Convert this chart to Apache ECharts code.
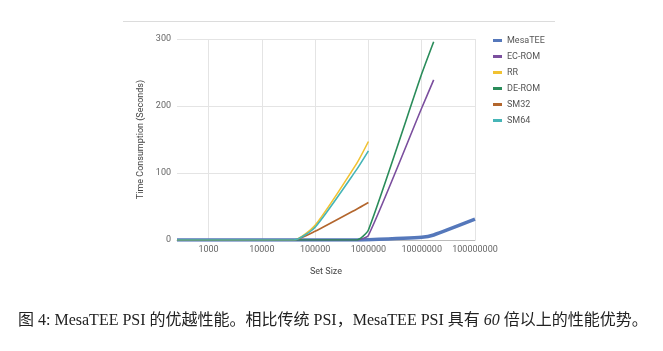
<!DOCTYPE html>
<html>
<head>
<meta charset="utf-8">
<script src="https://cdn.jsdelivr.net/npm/echarts@6/dist/echarts.min.js"></script>
<style>
html, body { margin: 0; padding: 0; background: #fff; }
#main { width: 663px; height: 351px; }
</style>
</head>
<body>
<div id="main"></div>
<script>
// set sizes (x) and times in seconds
var setSizes = [256, 1000, 10000, 40000, 100000, 600000, 1000000, 10000000, 16777216, 100000000];
var mesaTEE = [0, 0, 0, 0, 0, 0, 0.2, 4, 7.5, 31];
var ecRom   = [0, 0, 0, 0, 0, 0, 7, 197, 239, null];
var rr      = [0, 0, 0, 0, 22, 114, 147, null, null, null];
var deRom   = [0, 0, 0, 0, 0, 0, 15, 248, 296, null];
var sm32    = [0, 0, 0, 0, 13, 46, 56, null, null, null];
var sm64    = [0, 0, 0, 0, 19, 105, 133, null, null, null];
var seriesNames = ['MesaTEE', 'EC-ROM', 'RR', 'DE-ROM', 'SM32', 'SM64'];
var xTicks = [1000, 10000, 100000, 1000000, 10000000, 100000000];

var colors = ['#5578bb', '#7b4f9e', '#f1c232', '#2a8c5a', '#b3662d', '#46b5b7'];

function pairs(ys) {
	var out = [];
	for (var i = 0; i < setSizes.length; i++) {
		out.push([setSizes[i], ys[i]]);
	}
	return out;
}

var myChart = echarts.init(document.getElementById('main'));
var allData = [mesaTEE, ecRom, rr, deRom, sm32, sm64];
var series = [];
for (var i = 0; i < seriesNames.length; i++) {
	series.push({
		name: seriesNames[i],
		type: 'line',
		data: pairs(allData[i]),
		smooth: 0.2,
		showSymbol: false,
		symbol: 'none',
		connectNulls: false,
		lineStyle: { width: i === 0 ? 3.5 : 1.6, color: colors[i] },
		itemStyle: { color: colors[i] },
		z: i === 0 ? 1 : 2
	});
}

var option = {
	animation: false,
	color: colors,
	textStyle: { fontFamily: 'Roboto, sans-serif' },
	grid: { left: 177, right: 188, top: 39, bottom: 111 },
	legend: {
		orient: 'vertical',
		left: 488,
		top: 31,
		icon: 'rect',
		itemWidth: 9,
		itemHeight: 3,
		itemGap: 7,
		data: seriesNames,
		textStyle: { fontSize: 9, color: '#555', fontFamily: 'Roboto, sans-serif' }
	},
	xAxis: {
		type: 'log',
		logBase: 10,
		min: 256,
		max: 100000000,
		name: 'Set Size',
		nameLocation: 'middle',
		nameGap: 27,
		nameTextStyle: { fontSize: 9, color: '#444' },
		axisLine: { show: true, lineStyle: { color: '#bbb' } },
		axisTick: { show: false },
		axisLabel: {
			fontSize: 9,
			color: '#666',
			margin: 5,
			showMinLabel: false,
			formatter: function (v) {
				for (var k = 0; k < xTicks.length; k++) {
					if (Math.abs(v - xTicks[k]) / xTicks[k] < 1e-6) return String(xTicks[k]);
				}
				return '';
			}
		},
		splitLine: { show: true, showMinLine: false, lineStyle: { color: '#e4e4e4' } }
	},
	yAxis: {
		type: 'value',
		min: 0,
		max: 300,
		interval: 100,
		name: 'Time Consumption (Seconds)',
		nameLocation: 'middle',
		nameGap: 32,
		nameTextStyle: { fontSize: 9, color: '#444' },
		axisLine: { show: false },
		axisTick: { show: false },
		axisLabel: { fontSize: 9, color: '#666', margin: 6 },
		splitLine: { lineStyle: { color: '#e4e4e4' } }
	},
	graphic: [
		{
			type: 'line',
			shape: { x1: 123, y1: 21.5, x2: 555, y2: 21.5 },
			style: { stroke: '#dcdcdc', lineWidth: 1 }
		},
		{
			type: 'text',
			left: 18,
			top: 313,
			style: {
				text: '{n|图 4: MesaTEE PSI 的优越性能。相比传统 PSI，MesaTEE PSI 具有 }{i|60}{n| 倍以上的性能优势。}',
				rich: {
					n: { fontSize: 16, fontFamily: '"Liberation Serif", "Noto Sans CJK SC", serif', fill: '#222' },
					i: { fontSize: 16, fontStyle: 'italic', fontFamily: '"Liberation Serif", serif', fill: '#222' }
				}
			}
		}
	],
	series: series
};

myChart.setOption(option);
</script>
</body>
</html>
